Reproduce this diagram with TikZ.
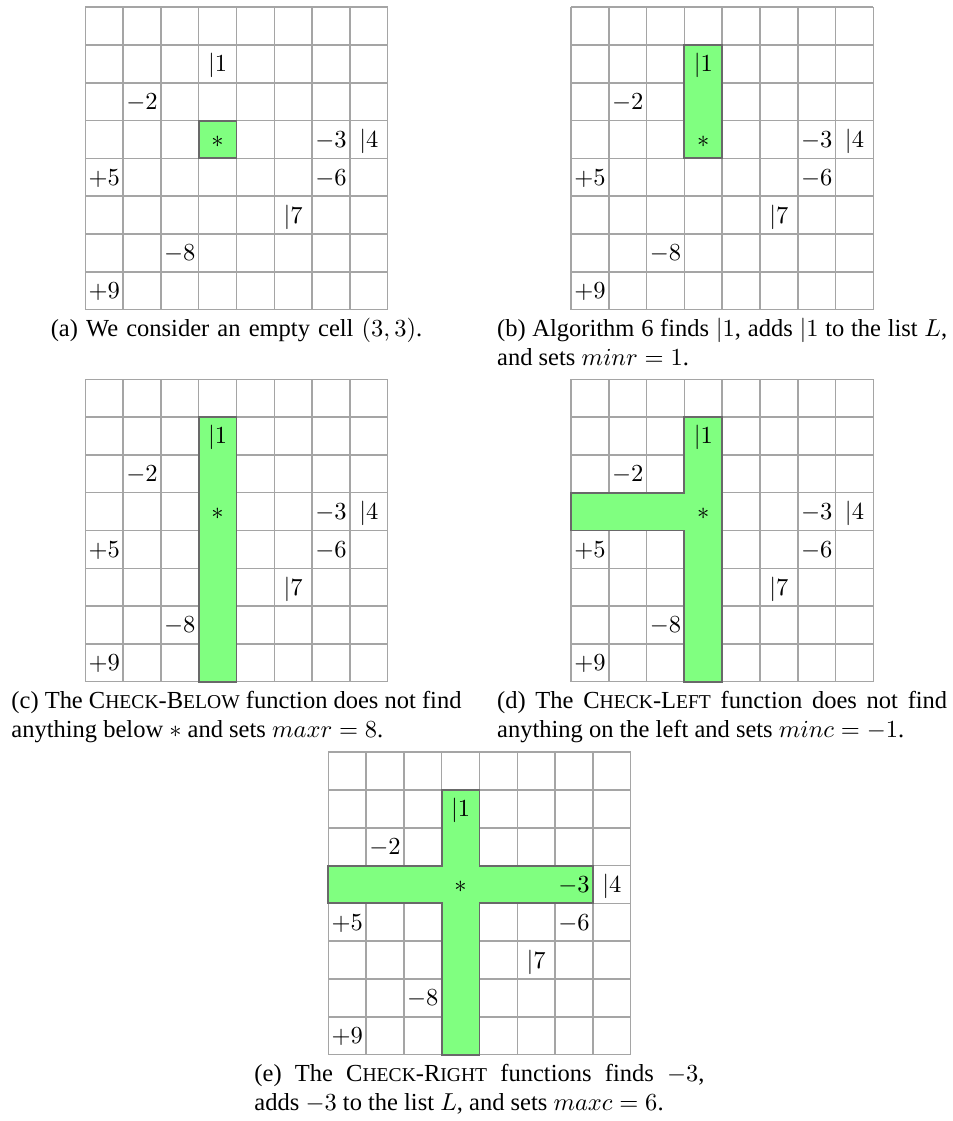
\documentclass[tikz,border=0pt]{standalone}
\usepackage{fontspec}
\setmainfont{Liberation Serif}
\usepackage{tikz}
\definecolor{cellgreen}{RGB}{128,255,128}
\definecolor{gridgray}{RGB}{165,165,165}
\definecolor{edgegray}{RGB}{105,105,105}
\tikzset{
  gridline/.style={draw=gridgray,line width=0.6pt},
  hlcell/.style={fill=cellgreen},
  hledge/.style={draw=edgegray,line width=0.8pt},
  entry/.style={inner sep=0pt,text height=6.44pt,text depth=0pt},
  capt/.style={text width=183.7pt,align=justify,inner sep=0pt,anchor=base,
    font=\fontsize{10pt}{12pt}\selectfont}
}
\newcommand{\cs}{37.8}
\newcommand{\chk}[2]{#1{\fontsize{8pt}{12pt}\selectfont #2}}
\newcommand{\cellgrid}{%
  \foreach \k in {0,...,8}{
    \draw[gridline] (\k*\cs,0) -- (\k*\cs,8*\cs);
    \draw[gridline] (0,\k*\cs) -- (8*\cs,\k*\cs);
  }}
\newcommand{\cellentries}[1]{%
  \foreach \c/\r/\v in {3/1/{|1},1/2/{-2},3/3/{*},6/3/{-3},7/3/{|4},
                        0/4/{+5},6/4/{-6},5/5/{|7},2/6/{-8},0/7/{+9}}
    \node[entry] (#1-\c-\r) at ({(\c+0.5)*\cs},{(\r+0.5)*\cs}) {$\v$};}

\begin{document}
\begin{tikzpicture}[x=0.4082pt,y=-0.4082pt]
\useasboundingbox (0,0) rectangle (953,1121);

% (a)
\begin{scope}[shift={(85.3,7.2)}]
\cellgrid
\fill[hlcell] (3*\cs,3*\cs) rectangle (4*\cs,4*\cs);
\draw[hledge] (3*\cs,3*\cs) rectangle (4*\cs,4*\cs);
\cellentries{a}
\end{scope}

% (b)
\begin{scope}[shift={(571,7.2)}]
\cellgrid
\fill[hlcell] (3*\cs,1*\cs) rectangle (4*\cs,4*\cs);
\draw[hledge] (3*\cs,1*\cs) rectangle (4*\cs,4*\cs);
\cellentries{b}
\end{scope}

% (c)
\begin{scope}[shift={(85.3,379.3)}]
\cellgrid
\fill[hlcell] (3*\cs,1*\cs) rectangle (4*\cs,8*\cs);
\draw[hledge] (3*\cs,1*\cs) rectangle (4*\cs,8*\cs);
\cellentries{c}
\end{scope}

% (d)
\begin{scope}[shift={(571,379.3)}]
\cellgrid
\fill[hlcell] (3*\cs,1*\cs) -- (4*\cs,1*\cs) -- (4*\cs,8*\cs) -- (3*\cs,8*\cs)
  -- (3*\cs,4*\cs) -- (0,4*\cs) -- (0,3*\cs) -- (3*\cs,3*\cs) -- cycle;
\draw[hledge] (3*\cs,1*\cs) -- (4*\cs,1*\cs) -- (4*\cs,8*\cs) -- (3*\cs,8*\cs)
  -- (3*\cs,4*\cs) -- (0,4*\cs) -- (0,3*\cs) -- (3*\cs,3*\cs) -- cycle;
\cellentries{d}
\end{scope}

% (e)
\begin{scope}[shift={(328.3,752.2)}]
\cellgrid
\fill[hlcell] (3*\cs,1*\cs) -- (4*\cs,1*\cs) -- (4*\cs,3*\cs) -- (7*\cs,3*\cs)
  -- (7*\cs,4*\cs) -- (4*\cs,4*\cs) -- (4*\cs,8*\cs) -- (3*\cs,8*\cs)
  -- (3*\cs,4*\cs) -- (0,4*\cs) -- (0,3*\cs) -- (3*\cs,3*\cs) -- cycle;
\draw[hledge] (3*\cs,1*\cs) -- (4*\cs,1*\cs) -- (4*\cs,3*\cs) -- (7*\cs,3*\cs)
  -- (7*\cs,4*\cs) -- (4*\cs,4*\cs) -- (4*\cs,8*\cs) -- (3*\cs,8*\cs)
  -- (3*\cs,4*\cs) -- (0,4*\cs) -- (0,3*\cs) -- (3*\cs,3*\cs) -- cycle;
\cellentries{e}
\end{scope}

% captions
\node[capt,align=center] (capa) at (236.5,336)
  {(a) We consider an empty cell $(3,3)$.};
\node[capt] (capb) at (722.2,336)
  {(b) Algorithm 6 finds $|1$, adds $|1$ to the list $L$, and sets $minr=1$.};
\node[capt] (capc) at (236.5,708)
  {(c) The \chk{C}{HECK}-\chk{B}{ELOW} function does not find anything below $*$ and sets $maxr=8$.};
\node[capt] (capd) at (722.2,708)
  {(d) The \chk{C}{HECK}-\chk{L}{EFT} function does not find anything on the left and sets $minc=-1$.};
\node[capt] (cape) at (479.5,1081)
  {(e) The \chk{C}{HECK}-\chk{R}{IGHT} functions finds $-3$, adds $-3$ to the list $L$, and sets $maxc=6$.};
\end{tikzpicture}
\end{document}
